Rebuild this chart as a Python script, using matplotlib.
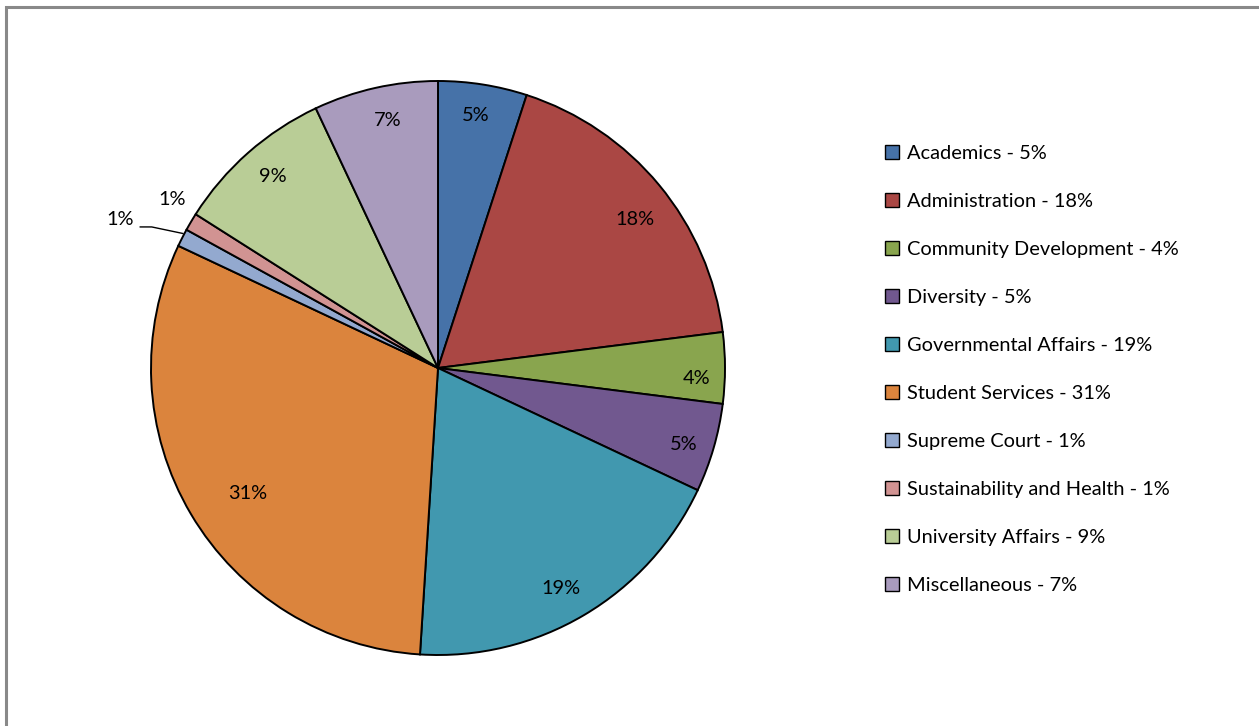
import numpy as np
import matplotlib
matplotlib.use("Agg")
import matplotlib.pyplot as plt
from matplotlib.patches import Patch, Rectangle

plt.rcParams['font.family'] = ['Lato', 'DejaVu Sans']

categories = ["Academics", "Administration", "Community Development", "Diversity",
              "Governmental Affairs", "Student Services", "Supreme Court",
              "Sustainability and Health", "University Affairs", "Miscellaneous"]
shares = [5, 18, 4, 5, 19, 31, 1, 1, 9, 7]
colors = ["#4672A8", "#AA4744", "#89A54E", "#71588F", "#4198AF",
          "#DB843D", "#93A9CF", "#D19392", "#B9CD96", "#A99BBD"]

FS = 14.4
W, H = 1259, 726
fig = plt.figure(figsize=(W / 100, H / 100), dpi=100)

# outer chart frame (only top and left edges fall inside the canvas)
fig.patches.append(Rectangle((6 / W, -0.1), 1.2, 1 - 7 / H + 0.1,
                             transform=fig.transFigure, fill=False,
                             edgecolor="#898989", linewidth=2.2))

cx, cy, R = 438, 368, 287
ax = fig.add_axes([(cx - R) / W, (H - cy - R) / H, 2 * R / W, 2 * R / H])
wedges, _ = ax.pie(shares, colors=colors, startangle=90, counterclock=False,
                   wedgeprops=dict(edgecolor="black", linewidth=1.4))
ax.set_xlim(-1, 1)
ax.set_ylim(-1, 1)
ax.set_aspect("equal")
ax.axis("off")

# (radius, angle offset in degrees) for each percentage label
label_pos = {0: (0.895, 0.5), 1: (0.863, -2.3), 2: (0.90, -1.8), 3: (0.896, -0.7),
             4: (0.875, -1.2), 5: (0.79, 2.4), 6: (1.225, 1.7), 7: (1.10, -2),
             8: (0.887, -1.0), 9: (0.888, -1.3)}
for i, (w, v) in enumerate(zip(wedges, shares)):
    r, d = label_pos[i]
    mid = np.deg2rad((w.theta1 + w.theta2) / 2 + d)
    x, y = r * np.cos(mid), r * np.sin(mid) - 0.007
    ax.text(x, y, f"{v}%", ha="center", va="center", fontsize=FS)
    if i == 6:
        # leader line from the label to the small slice
        emid = np.deg2rad((w.theta1 + w.theta2) / 2 - 0.8)
        ex, ey = 1.005 * np.cos(emid), 1.005 * np.sin(emid)
        ax.plot([x + 0.07, x + 0.11, ex], [y - 0.025, y - 0.025, ey],
                color="black", linewidth=1.0, clip_on=False)

handles = [Patch(facecolor=c, edgecolor="black", linewidth=1.0) for c in colors]
labels = [f"{c} - {v}%" for c, v in zip(categories, shares)]
fig.legend(handles, labels, loc="upper left", bbox_to_anchor=(877 / W, 1 - 137 / H),
           frameon=False, fontsize=FS, handlelength=0.7, handleheight=0.7,
           handletextpad=0.4, labelspacing=1.55, borderaxespad=0)

fig.savefig("out.png", dpi=100, facecolor="white")
